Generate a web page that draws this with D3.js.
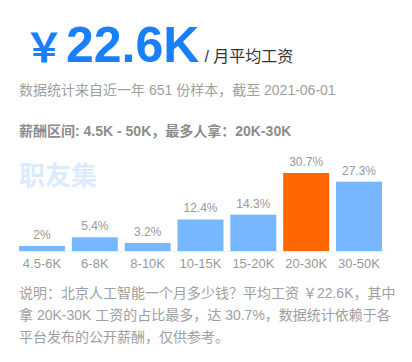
<!DOCTYPE html>
<html>
<head>
<meta charset="utf-8">
<script src="https://cdn.jsdelivr.net/npm/d3@7"></script>
<style>
  body { margin: 0; background: #fff; }
  svg { display: block; font-family: "Liberation Sans", Arial, "Noto Sans CJK SC", sans-serif; }
</style>
</head>
<body>
<svg id="chart" width="412" height="362"></svg>
<script>
// salary buckets and share of samples (%)
const categories = ["4.5-6K", "6-8K", "8-10K", "10-15K", "15-20K", "20-30K", "30-50K"];
const shares = [2, 5.4, 3.2, 12.4, 14.3, 30.7, 27.3];
const shareLabels = ["2%", "5.4%", "3.2%", "12.4%", "14.3%", "30.7%", "27.3%"];
const topCategory = "20-30K";

const avgSalary = "22.6K";
const summaryLines = [
  "说明：北京人工智能一个月多少钱？平均工资 ￥22.6K，其中",
  "拿 20K-30K 工资的占比最多，达 30.7%，数据统计依赖于各",
  "平台发布的公开薪酬，仅供参考。"
];

const svg = d3.select("#chart");
const cjk = '"Liberation Sans", Arial, "Noto Sans CJK SC", sans-serif';

// header: big average salary
const head = svg.append("text")
  .attr("x", 24)
  .attr("y", 62)
  .style("font-family", cjk);
head.append("tspan")
  .attr("fill", "#1a7ffb")
  .style("font-size", "40px")
  .style("font-weight", "bold")
  .text("￥");
head.append("tspan")
  .attr("x", 66)
  .attr("fill", "#1a7ffb")
  .style("font-size", "50px")
  .style("font-weight", "bold")
  .text(avgSalary);
head.append("tspan")
  .attr("dx", 5)
  .attr("fill", "#333")
  .style("font-size", "16px")
  .text("/ 月平均工资");

svg.append("text")
  .attr("x", 19)
  .attr("y", 95)
  .attr("fill", "#a0a0a0")
  .style("font-size", "14px")
  .text("数据统计来自近一年 651 份样本，截至 2021-06-01");

svg.append("text")
  .attr("x", 19)
  .attr("y", 136)
  .attr("fill", "#8c8c8c")
  .style("font-size", "14px")
  .style("font-weight", "bold")
  .text("薪酬区间: 4.5K - 50K，最多人拿：20K-30K");

// watermark
svg.append("text")
  .attr("x", 19)
  .attr("y", 185)
  .attr("fill", "#dcebfb")
  .style("font-size", "26px")
  .style("font-weight", "bold")
  .style("font-family", '"Noto Sans CJK SC", sans-serif')
  .text("职友集");

// bars
const baseline = 251;
const x = d3.scaleBand()
  .domain(categories)
  .range([19, 382])
  .paddingInner(0.13)
  .paddingOuter(0);

const y = d3.scaleLinear()
  .domain([0, 30.7])
  .range([baseline, 173]);

svg.append("line")
  .attr("x1", 19)
  .attr("x2", 386)
  .attr("y1", baseline + 0.5)
  .attr("y2", baseline + 0.5)
  .attr("stroke", "#eeeeee");

const bars = svg.selectAll(".bar")
  .data(categories)
  .enter()
  .append("g")
  .attr("class", "bar");

bars.append("rect")
  .attr("x", d => x(d))
  .attr("y", (d, i) => y(shares[i]))
  .attr("width", x.bandwidth())
  .attr("height", (d, i) => baseline - y(shares[i]))
  .attr("fill", d => d === topCategory ? "#ff6600" : "#77b7ff");

bars.append("text")
  .attr("x", d => x(d) + x.bandwidth() / 2)
  .attr("y", (d, i) => y(shares[i]) - 7)
  .attr("text-anchor", "middle")
  .attr("fill", "#999")
  .style("font-size", "12px")
  .text((d, i) => shareLabels[i]);

const xAxis = d3.axisBottom(x).tickSize(0).tickPadding(0);
svg.append("g")
  .attr("transform", `translate(0,${baseline})`)
  .call(xAxis)
  .call(g => g.select(".domain").remove())
  .selectAll("text")
  .attr("y", 17)
  .attr("dy", 0)
  .attr("fill", "#999")
  .style("font-size", "13px")
  .style("font-family", cjk);

// summary paragraph
svg.append("text")
  .attr("fill", "#a0a0a0")
  .style("font-size", "14px")
  .selectAll("tspan")
  .data(summaryLines)
  .enter()
  .append("tspan")
  .attr("x", 19)
  .attr("y", (d, i) => 298 + i * 22)
  .text(d => d);
</script>
</body>
</html>
